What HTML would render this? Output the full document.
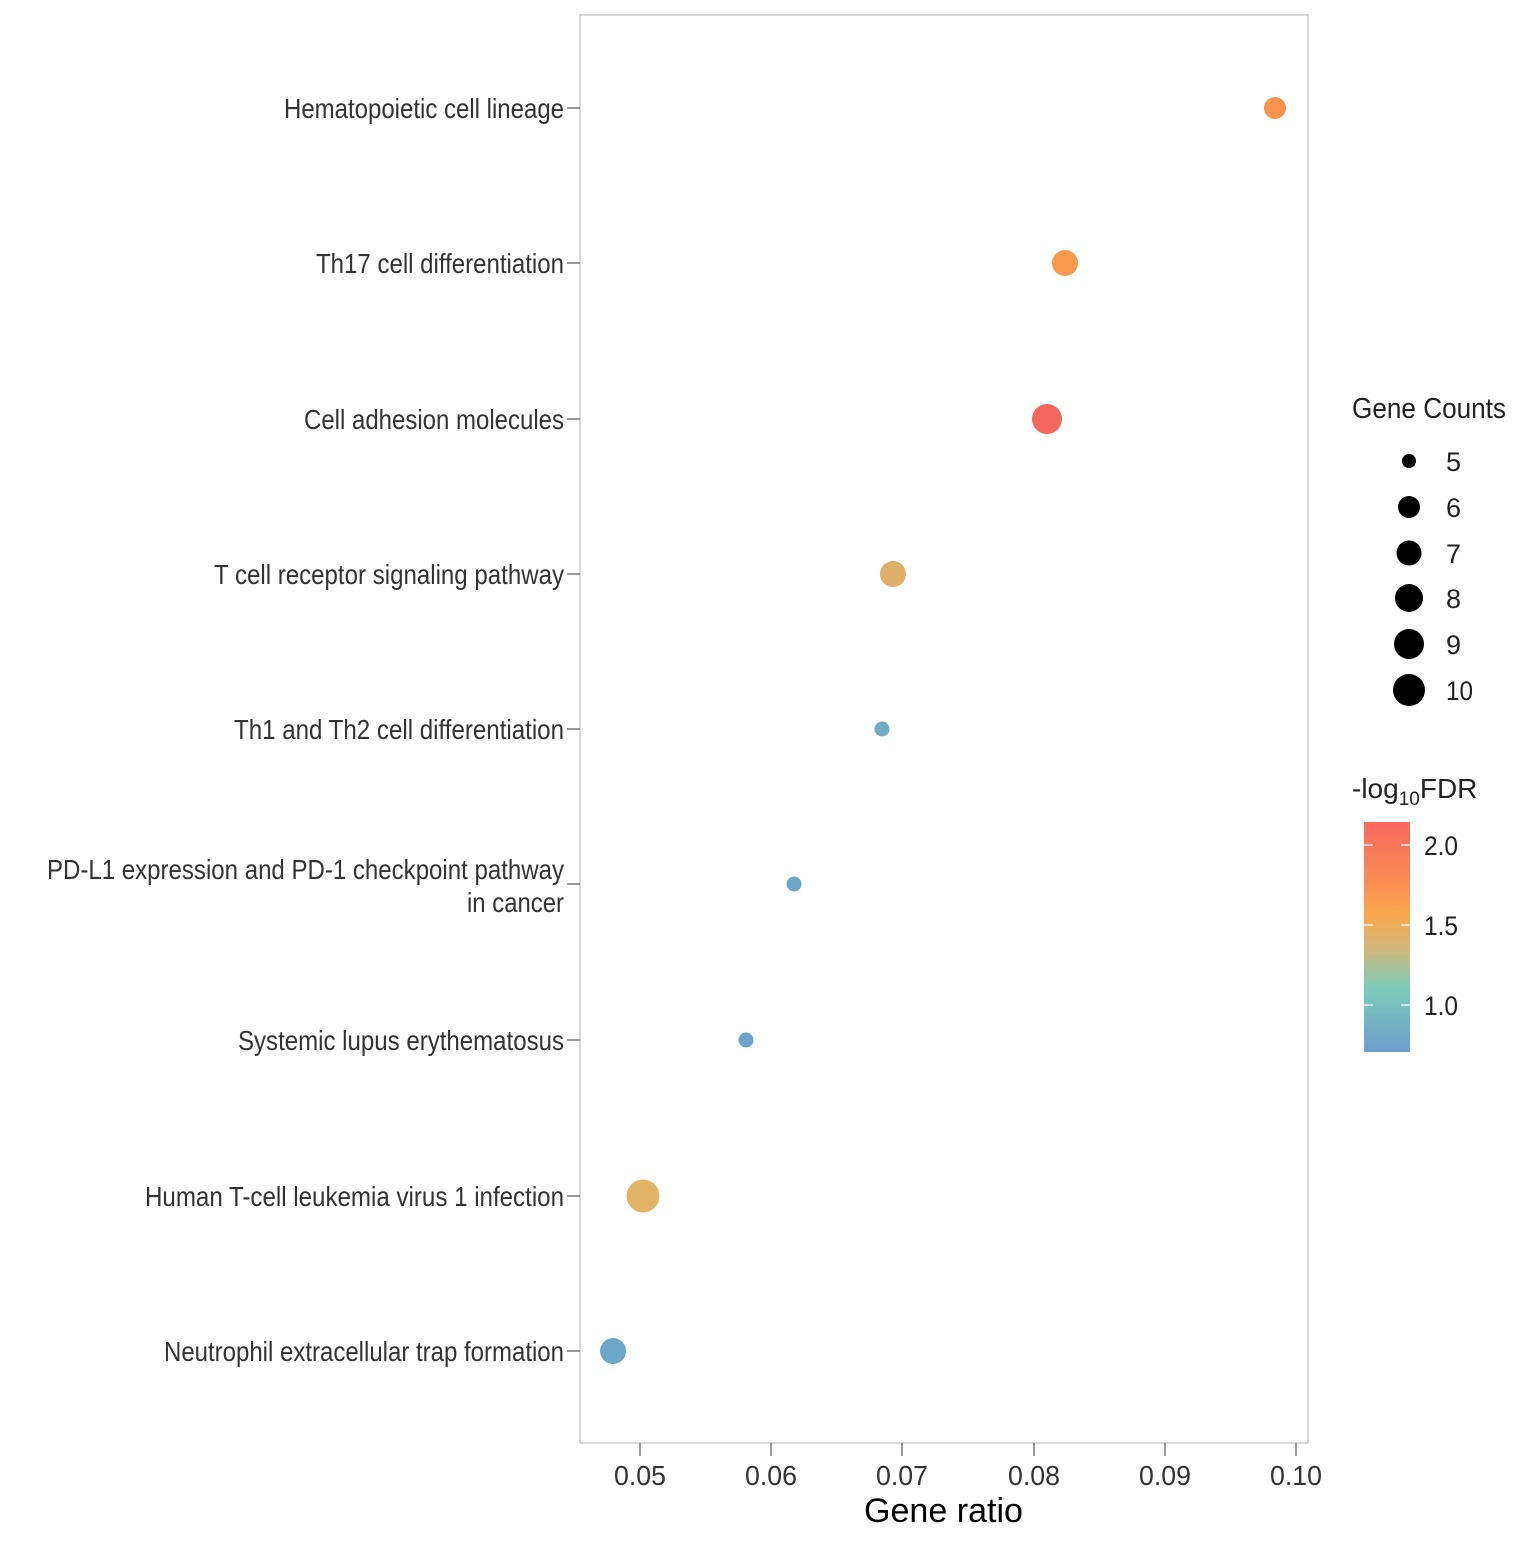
<!DOCTYPE html>
<html><head><style>
body{margin:0;background:#fff;}
svg text{font-family:"Liberation Sans",sans-serif;}
</style></head><body>
<svg width="1536" height="1536" viewBox="0 0 1536 1536" xmlns="http://www.w3.org/2000/svg">
<defs>
<linearGradient id="g" x1="0" y1="0" x2="0" y2="1">
<stop offset="0" stop-color="#F8685F"/>
<stop offset="0.25" stop-color="#F98C55"/>
<stop offset="0.4" stop-color="#F9A84C"/>
<stop offset="0.55" stop-color="#D2B77A"/>
<stop offset="0.72" stop-color="#7ECBB9"/>
<stop offset="1" stop-color="#6C9FCC"/>
</linearGradient>
</defs>
<rect x="580" y="15" width="728" height="1428" fill="#fff" stroke="#bdbdbd" stroke-width="1.2"/>
<g stroke="#555" stroke-width="1.2">
<line x1="567" y1="108" x2="580" y2="108"/><line x1="567" y1="263" x2="580" y2="263"/>
<line x1="567" y1="419" x2="580" y2="419"/><line x1="567" y1="574" x2="580" y2="574"/>
<line x1="567" y1="729" x2="580" y2="729"/><line x1="567" y1="884" x2="580" y2="884"/>
<line x1="567" y1="1040" x2="580" y2="1040"/><line x1="567" y1="1196" x2="580" y2="1196"/>
<line x1="567" y1="1351" x2="580" y2="1351"/>
<line x1="640" y1="1443" x2="640" y2="1456"/><line x1="771" y1="1443" x2="771" y2="1456"/>
<line x1="902" y1="1443" x2="902" y2="1456"/><line x1="1034" y1="1443" x2="1034" y2="1456"/>
<line x1="1165" y1="1443" x2="1165" y2="1456"/><line x1="1296" y1="1443" x2="1296" y2="1456"/>
</g>
<g font-size="28" fill="#333" lengthAdjust="spacingAndGlyphs">
<text x="284" y="118" textLength="280" lengthAdjust="spacingAndGlyphs">Hematopoietic cell lineage</text>
<text x="316" y="273" textLength="248" lengthAdjust="spacingAndGlyphs">Th17 cell differentiation</text>
<text x="304" y="429" textLength="260" lengthAdjust="spacingAndGlyphs">Cell adhesion molecules</text>
<text x="214" y="584" textLength="350" lengthAdjust="spacingAndGlyphs">T cell receptor signaling pathway</text>
<text x="234" y="739" textLength="330" lengthAdjust="spacingAndGlyphs">Th1 and Th2 cell differentiation</text>
<text x="47" y="879" textLength="517" lengthAdjust="spacingAndGlyphs">PD-L1 expression and PD-1 checkpoint pathway</text>
<text x="467" y="912" textLength="97" lengthAdjust="spacingAndGlyphs">in cancer</text>
<text x="238" y="1050" textLength="326" lengthAdjust="spacingAndGlyphs">Systemic lupus erythematosus</text>
<text x="145" y="1206" textLength="419" lengthAdjust="spacingAndGlyphs">Human T-cell leukemia virus 1 infection</text>
<text x="164" y="1361" textLength="400" lengthAdjust="spacingAndGlyphs">Neutrophil extracellular trap formation</text>
</g>
<g font-size="28" fill="#333">
<text x="614" y="1485" textLength="52" lengthAdjust="spacingAndGlyphs">0.05</text>
<text x="745" y="1485" textLength="52" lengthAdjust="spacingAndGlyphs">0.06</text>
<text x="876" y="1485" textLength="52" lengthAdjust="spacingAndGlyphs">0.07</text>
<text x="1008" y="1485" textLength="52" lengthAdjust="spacingAndGlyphs">0.08</text>
<text x="1139" y="1485" textLength="52" lengthAdjust="spacingAndGlyphs">0.09</text>
<text x="1270" y="1485" textLength="52" lengthAdjust="spacingAndGlyphs">0.10</text>
</g>
<text x="864" y="1522" font-size="34" fill="#000" textLength="159" lengthAdjust="spacingAndGlyphs">Gene ratio</text>
<circle cx="1275" cy="108" r="11" fill="#F9944F"/>
<circle cx="1065" cy="263" r="13" fill="#F9994E"/>
<circle cx="1047" cy="419" r="15" fill="#F4685E"/>
<circle cx="893" cy="574" r="13" fill="#E0B06A"/>
<circle cx="882" cy="729" r="7.5" fill="#6FADC4"/>
<circle cx="794" cy="884" r="7.5" fill="#6EA7C8"/>
<circle cx="746" cy="1040" r="7.5" fill="#6BA3CA"/>
<circle cx="643" cy="1196" r="16.5" fill="#E2B468"/>
<circle cx="613" cy="1351" r="13" fill="#6DA7C7"/>
<text x="1352" y="418" font-size="29" fill="#222" textLength="154" lengthAdjust="spacingAndGlyphs">Gene Counts</text>
<g fill="#000">
<circle cx="1409" cy="461" r="7"/><circle cx="1409" cy="507" r="11"/>
<circle cx="1409" cy="553" r="12.5"/><circle cx="1409" cy="598" r="14"/>
<circle cx="1409" cy="644" r="15"/><circle cx="1409" cy="690" r="16"/>
</g>
<g font-size="27" fill="#222">
<text x="1446" y="471">5</text><text x="1446" y="517">6</text><text x="1446" y="563">7</text>
<text x="1446" y="608">8</text><text x="1446" y="654">9</text><text x="1446" y="700" textLength="27" lengthAdjust="spacingAndGlyphs">10</text>
</g>
<text x="1352" y="798" font-size="28" fill="#222">-log<tspan font-size="19" dy="7">10</tspan><tspan dy="-7">FDR</tspan></text>
<rect x="1364" y="822" width="46" height="230" fill="url(#g)"/>
<g stroke="#fff" stroke-width="1.2">
<line x1="1364" y1="845" x2="1373" y2="845"/><line x1="1401" y1="845" x2="1410" y2="845"/>
<line x1="1364" y1="925" x2="1373" y2="925"/><line x1="1401" y1="925" x2="1410" y2="925"/>
<line x1="1364" y1="1005" x2="1373" y2="1005"/><line x1="1401" y1="1005" x2="1410" y2="1005"/>
</g>
<g font-size="27" fill="#222">
<text x="1424" y="855" textLength="34" lengthAdjust="spacingAndGlyphs">2.0</text>
<text x="1424" y="935" textLength="34" lengthAdjust="spacingAndGlyphs">1.5</text>
<text x="1424" y="1015" textLength="34" lengthAdjust="spacingAndGlyphs">1.0</text>
</g>
</svg>
</body></html>
